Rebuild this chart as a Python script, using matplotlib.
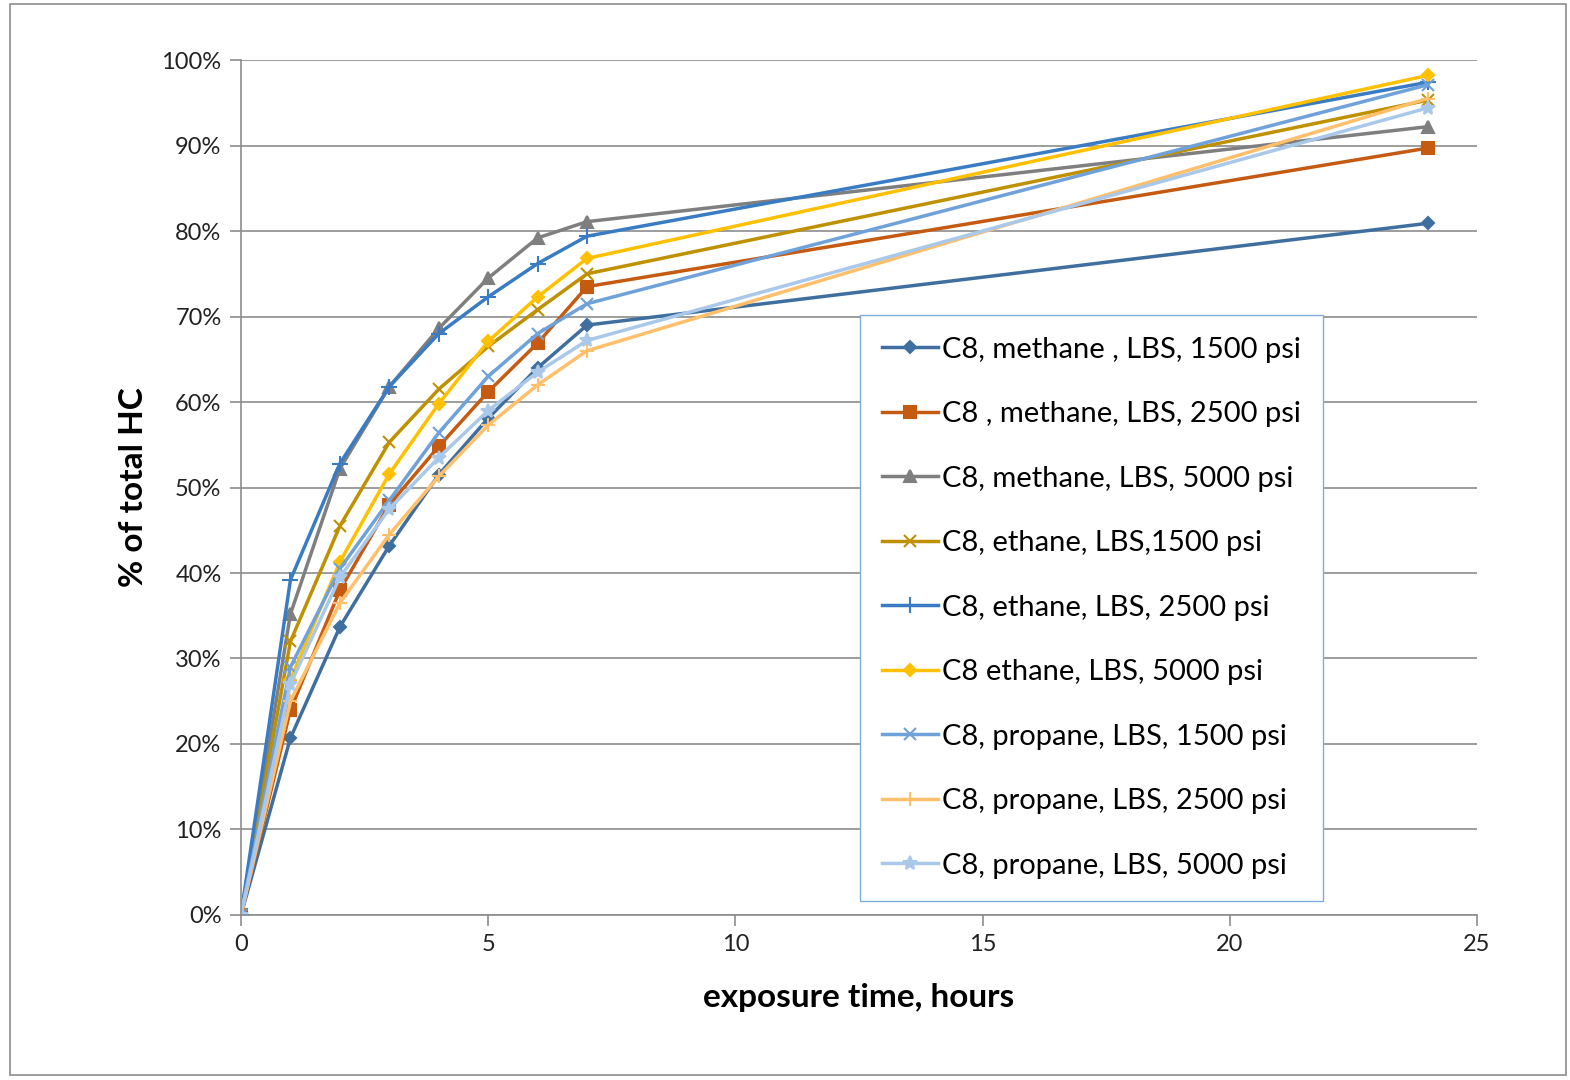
import matplotlib.pyplot as plt
from matplotlib.ticker import PercentFormatter, MultipleLocator
from matplotlib.patches import Rectangle

plt.rcParams['font.family'] = ['Lato', 'DejaVu Sans']

# exposure times (hours)
hours = [0, 1, 2, 3, 4, 5, 6, 7, 24]

# % of total HC recovered for each run
methane_1500 = [0, 20.7, 33.7, 43.2, 51.5, 58.1, 64.0, 69.0, 80.9]
methane_2500 = [0, 24.0, 38.0, 48.0, 54.8, 61.2, 66.9, 73.5, 89.7]
methane_5000 = [0, 35.2, 52.2, 61.8, 68.6, 74.5, 79.2, 81.1, 92.2]
ethane_1500 = [0, 32.0, 45.5, 55.3, 61.5, 66.5, 70.8, 75.0, 95.3]
ethane_2500 = [0, 39.2, 52.8, 61.8, 68.0, 72.3, 76.2, 79.4, 97.4]
ethane_5000 = [0, 27.5, 41.3, 51.6, 59.8, 67.1, 72.3, 76.8, 98.2]
propane_1500 = [0, 29.0, 40.5, 48.5, 56.4, 63.0, 68.0, 71.5, 97.1]
propane_2500 = [0, 25.0, 36.5, 44.5, 51.3, 57.3, 62.0, 66.0, 95.5]
propane_5000 = [0, 27.0, 39.5, 47.5, 53.5, 59.0, 63.5, 67.2, 94.4]

labels = [
    "C8, methane , LBS, 1500 psi",
    "C8 , methane, LBS, 2500 psi",
    "C8, methane, LBS, 5000 psi",
    "C8, ethane, LBS,1500 psi",
    "C8, ethane, LBS, 2500 psi",
    "C8 ethane, LBS, 5000 psi",
    "C8, propane, LBS, 1500 psi",
    "C8, propane, LBS, 2500 psi",
    "C8, propane, LBS, 5000 psi",
]
series = [methane_1500, methane_2500, methane_5000,
          ethane_1500, ethane_2500, ethane_5000,
          propane_1500, propane_2500, propane_5000]
colors = ['#3E6F9F', '#C55A11', '#7F7F7F', '#BF9000', '#3A7CC4',
          '#FFC000', '#6FA1DA', '#FFBF6B', '#A9C8EA']
markers = ['D', 's', '^', 'x', '+', 'D', 'x', '+', '*']
msizes = [6, 8, 9, 8, 11, 6, 8, 10, 10]

fig = plt.figure(figsize=(15.7, 10.8), dpi=100)
ax = fig.add_axes([0.1535, 0.1528, 0.9408 - 0.1535, 0.9444 - 0.1528])

for vals, lab, c, m, ms in zip(series, labels, colors, markers, msizes):
    ax.plot(hours, vals, color=c, marker=m, markersize=ms, linewidth=2.5,
            markeredgewidth=1.5, label=lab)

ax.set_xlim(0, 25)
ax.set_ylim(0, 100)
ax.xaxis.set_major_locator(MultipleLocator(5))
ax.yaxis.set_major_locator(MultipleLocator(10))
ax.yaxis.set_major_formatter(PercentFormatter(decimals=0))
ax.grid(axis='y', color='#8C8C8C', linewidth=1.2)
ax.set_axisbelow(True)
for s in ['top', 'right']:
    ax.spines[s].set_visible(False)
for s in ['left', 'bottom']:
    ax.spines[s].set_color('#8C8C8C')
    ax.spines[s].set_linewidth(1.2)
ax.tick_params(axis='both', labelsize=17, colors='#8C8C8C', labelcolor='#222222',
               length=8, width=1.2, pad=6)

ax.set_xlabel("exposure time, hours", fontsize=24, fontweight='bold', labelpad=20)
ax.set_ylabel("% of total HC", fontsize=24, fontweight='bold', labelpad=10)

leg = ax.legend(loc='upper left', bbox_to_anchor=(0.501, 0.702), fontsize=21,
                labelspacing=1.32, handlelength=1.9, handletextpad=0.15,
                borderpad=0.75, borderaxespad=0, fancybox=False, framealpha=1)
leg.get_frame().set_edgecolor('#7FAEDC')
leg.get_frame().set_linewidth(1.0)

# outer chart border
fig.patches.append(Rectangle((10 / 1570, 5 / 1080), 1556 / 1570, 1071 / 1080,
                             transform=fig.transFigure, fill=False,
                             edgecolor='#8C8C8C', linewidth=1.2))

fig.savefig("out.png", dpi=100)
